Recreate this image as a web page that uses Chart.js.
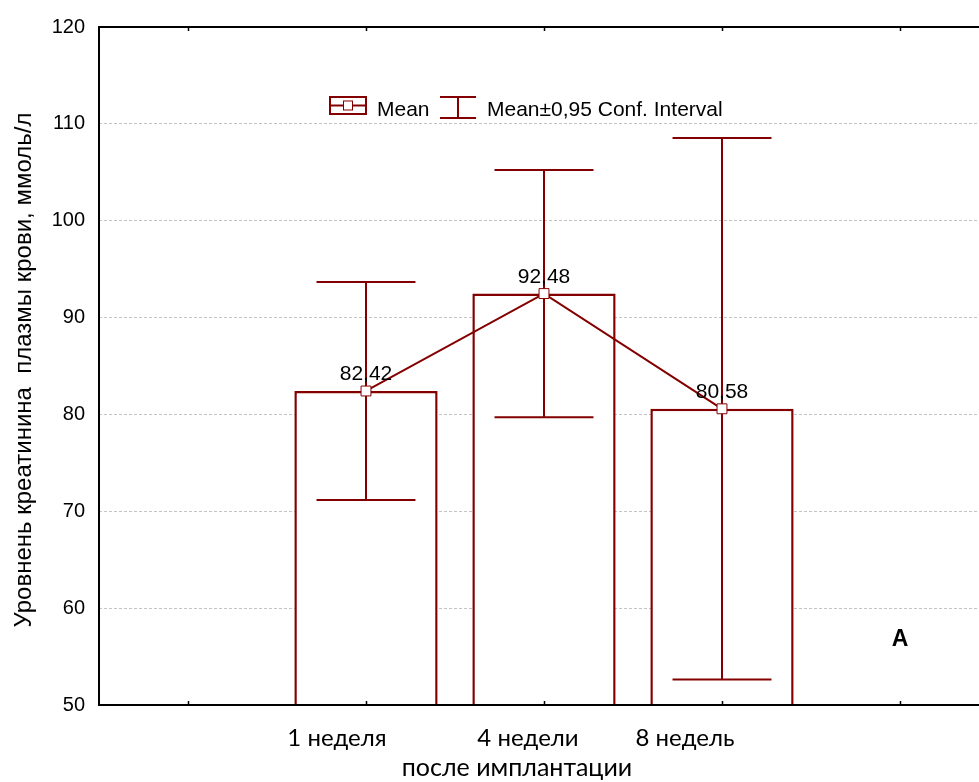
<!DOCTYPE html>
<html>
<head>
<meta charset="utf-8">
<script src="https://cdn.jsdelivr.net/npm/chart.js@4.4.1/dist/chart.umd.min.js"></script>
<style>
  html, body { margin: 0; padding: 0; background: #ffffff; overflow: hidden; }
  #wrap { width: 1000px; height: 782px; position: relative; }
</style>
</head>
<body>
<div id="wrap"><canvas id="chart"></canvas></div>
<script>
// Creatinine level by time after implantation: mean and 0.95 confidence interval
const categories = ['', '1 неделя', '4 недели', '8 недель', ''];
const meanValues = [null, 82.42, 92.48, 80.58, null];
const ciLower    = [null, 71.17, 79.72, 52.62, null];
const ciUpper    = [null, 93.67, 105.24, 108.54, null];
const yMin = 50, yMax = 120, yStep = 10;

const yTitle = 'Уровнень креатинина  плазмы крови, ммоль/л';
const xTitle = 'после имплантации';
const panelLetter = 'A';
const legendMean = 'Mean';
const legendCI = 'Mean±0,95 Conf. Interval';

const RED = '#840000';
const SANS = '"Liberation Sans", Arial, sans-serif';
const LABEL_FONT = 'Lato, "Open Sans", sans-serif';

// horizontal shift of each category caption relative to its bar centre
const captionShift = [0, -29, -16, -37, 0];

const fmt = v => v.toFixed(2).replace('.', ',');

const decorations = {
  id: 'decorations',
  afterDatasetDraw(chart, args) {
    // confidence interval whiskers, drawn over the bars and under the mean line
    if (args.index !== 1) return;
    const ctx = chart.ctx, x = chart.scales.x, y = chart.scales.y;
    const capHalf = (x.getPixelForValue(1) - x.getPixelForValue(0)) * 0.278;
    ctx.save();
    ctx.strokeStyle = RED;
    ctx.lineWidth = 2;
    for (let i = 0; i < categories.length; i++) {
      if (meanValues[i] == null) continue;
      const cx = Math.round(x.getPixelForValue(i));
      const yl = y.getPixelForValue(ciLower[i]);
      const yu = y.getPixelForValue(ciUpper[i]);
      ctx.beginPath();
      ctx.moveTo(cx, yl); ctx.lineTo(cx, yu);
      ctx.moveTo(cx - capHalf, yl); ctx.lineTo(cx + capHalf, yl);
      ctx.moveTo(cx - capHalf, yu); ctx.lineTo(cx + capHalf, yu);
      ctx.stroke();
    }
    ctx.restore();
  },
  afterDraw(chart) {
    const ctx = chart.ctx, a = chart.chartArea, x = chart.scales.x, y = chart.scales.y;
    ctx.save();
    // frame
    ctx.strokeStyle = '#000';
    ctx.lineWidth = 2;
    ctx.beginPath();
    ctx.moveTo(a.left, a.top); ctx.lineTo(a.right, a.top);
    ctx.moveTo(a.left, a.top - 1); ctx.lineTo(a.left, a.bottom + 1);
    ctx.moveTo(a.left, a.bottom); ctx.lineTo(a.right, a.bottom);
    ctx.moveTo(a.right, a.top); ctx.lineTo(a.right, a.bottom);
    ctx.stroke();
    // inward category ticks
    ctx.lineWidth = 1.5;
    ctx.beginPath();
    for (let i = 0; i < categories.length; i++) {
      const cx = Math.round(x.getPixelForValue(i)) + 0.5;
      ctx.moveTo(cx, a.bottom); ctx.lineTo(cx, a.bottom - 4);
      ctx.moveTo(cx, a.top); ctx.lineTo(cx, a.top + 4);
    }
    ctx.stroke();

    // mean value labels
    ctx.fillStyle = '#000';
    ctx.font = '21px ' + SANS;
    ctx.textAlign = 'center';
    ctx.textBaseline = 'alphabetic';
    for (let i = 0; i < categories.length; i++) {
      if (meanValues[i] == null) continue;
      ctx.fillText(fmt(meanValues[i]), x.getPixelForValue(i), y.getPixelForValue(meanValues[i]) - 11);
    }

    // category captions
    ctx.font = '24px ' + LABEL_FONT;
    for (let i = 0; i < categories.length; i++) {
      if (!categories[i]) continue;
      ctx.fillText(categories[i], x.getPixelForValue(i) + captionShift[i], 746);
    }
    ctx.font = '25px ' + LABEL_FONT;
    ctx.fillText(xTitle, 517, 776);

    // y axis title
    ctx.save();
    ctx.translate(31, 370);
    ctx.rotate(-Math.PI / 2);
    ctx.font = '24px ' + SANS;
    ctx.fillText(yTitle, 0, 0);
    ctx.restore();

    // panel letter
    ctx.font = 'bold 23px ' + SANS;
    ctx.fillText(panelLetter, 900, 646);

    // legend
    ctx.strokeStyle = RED;
    ctx.lineWidth = 2;
    ctx.strokeRect(330, 97, 36, 17);
    ctx.beginPath();
    ctx.moveTo(330, 105.5); ctx.lineTo(366, 105.5);
    ctx.stroke();
    ctx.fillStyle = '#fff';
    ctx.lineWidth = 1;
    ctx.fillRect(343.5, 101, 9, 9);
    ctx.strokeRect(343.5, 101, 9, 9);
    ctx.lineWidth = 2;
    ctx.beginPath();
    ctx.moveTo(440, 97); ctx.lineTo(476, 97);
    ctx.moveTo(440, 118); ctx.lineTo(476, 118);
    ctx.moveTo(458, 97); ctx.lineTo(458, 118);
    ctx.stroke();
    ctx.fillStyle = '#000';
    ctx.font = '21px ' + SANS;
    ctx.textAlign = 'left';
    ctx.fillText(legendMean, 377, 116);
    ctx.fillText(legendCI, 487, 116);
    ctx.restore();
  }
};

new Chart(document.getElementById('chart'), {
  data: {
    labels: categories,
    datasets: [
      {
        type: 'line',
        label: legendMean,
        data: meanValues,
        order: 1,
        borderColor: RED,
        borderWidth: 2,
        pointStyle: 'rect',
        pointRadius: 7,
        pointBorderWidth: 1,
        pointBorderColor: RED,
        pointBackgroundColor: '#ffffff',
        tension: 0
      },
      {
        type: 'bar',
        label: 'bars',
        data: meanValues,
        order: 2,
        backgroundColor: '#ffffff',
        borderColor: RED,
        borderWidth: 2.5,
        borderSkipped: false,
        barPercentage: 0.805,
        categoryPercentage: 1
      }
    ]
  },
  options: {
    responsive: true,
    maintainAspectRatio: false,
    animation: false,
    devicePixelRatio: 1,
    layout: { padding: { left: 0, top: 27, right: 11, bottom: 0 } },
    plugins: { legend: { display: false }, tooltip: { enabled: false } },
    scales: {
      x: {
        type: 'category',
        grid: { display: false },
        border: { display: false },
        ticks: { display: false },
        afterFit(scale) { scale.height = 77; }
      },
      y: {
        min: yMin,
        max: yMax,
        border: { display: false, dash: [3, 2] },
        grid: { color: '#c4c4c4', lineWidth: 1, drawTicks: false },
        ticks: {
          stepSize: yStep,
          padding: 14,
          color: '#000',
          font: { family: SANS, size: 20 }
        },
        afterFit(scale) { scale.width = 99; }
      }
    }
  },
  plugins: [decorations]
});
</script>
</body>
</html>
